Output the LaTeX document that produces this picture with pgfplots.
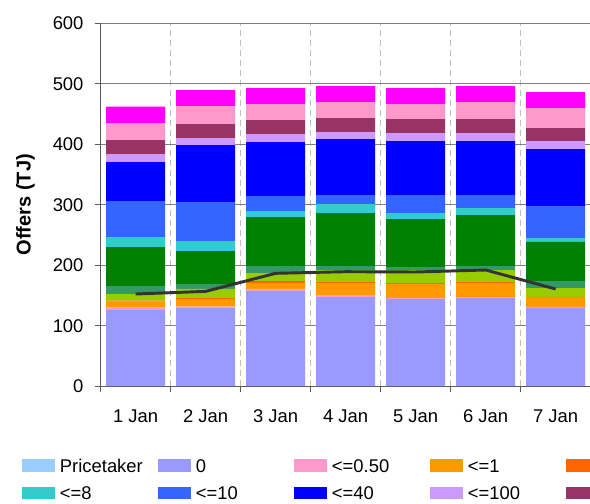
\documentclass[border=0pt]{standalone}
\usepackage{fontspec}
\setmainfont{Liberation Sans}
\usepackage{pgfplots}
\usepackage{pgfplotstable}
\pgfplotsset{compat=1.18}

\definecolor{c1}{HTML}{99CCFF}
\definecolor{c2}{HTML}{9999FF}
\definecolor{c3}{HTML}{FF99CC}
\definecolor{c4}{HTML}{FF9900}
\definecolor{c5}{HTML}{FF6600}
\definecolor{c6}{HTML}{99CC00}
\definecolor{c7}{HTML}{339966}
\definecolor{c8}{HTML}{008000}
\definecolor{c9}{HTML}{33CCCC}
\definecolor{c10}{HTML}{3366FF}
\definecolor{c11}{HTML}{0000FF}
\definecolor{c12}{HTML}{CC99FF}
\definecolor{c13}{HTML}{993366}
\definecolor{c14}{HTML}{FF99CC}
\definecolor{c15}{HTML}{FF00FF}
\definecolor{linec}{HTML}{333333}

\pgfplotstableread{
x s1 s2 s3 s4 s5 s6 s7 s8 s9 s10 s11 s12 s13 s14 s15
1 0 126.0 3.8 9.9 1.7 11.0 13.2 64.5 16.5 59.5 64.5 13.2 23.2 28.0 27.0
2 0 129.8 1.7 12.6 1.7 14.9 8.2 54.6 16.5 64.5 94.2 11.6 23.1 29.7 26.5
3 0 157.4 3.3 9.9 3.3 13.2 11.5 81.1 9.9 24.8 89.2 13.3 23.1 26.4 26.5
4 0 147.4 3.3 19.9 1.6 19.9 6.5 87.7 14.9 14.8 92.6 11.6 23.1 26.5 26.4
5 0 144.1 1.7 23.1 1.7 21.5 4.9 79.4 9.9 29.7 89.3 13.2 23.2 24.7 26.5
6 0 145.8 1.6 23.2 1.6 19.9 6.5 84.4 11.5 21.5 89.3 13.2 23.2 28.1 26.4
7 0 129.5 1.5 16.2 0.3 14.8 11.6 64.5 6.6 52.9 94.2 13.2 21.5 33.0 26.5
}\offers

\pgfplotstableread{
x demand
1 152.4
2 156.8
3 186.6
4 189.3
5 188.8
6 192.1
7 160.7
}\demand

\newcommand\cf{\fontsize{13.8pt}{16.5pt}\selectfont}

\begin{document}
\cf
\begin{tikzpicture}
\begin{axis}[name=ax,
  scale only axis, width=367.5pt, height=272.2pt,
  xmin=0.5, xmax=7.5, ymin=0, ymax=600, enlargelimits=false,
  ybar stacked, bar width=44.25pt,
  xtick={0.5,1.5,2.5,3.5,4.5,5.5,6.5,7.5},
  xticklabels={1 Jan,2 Jan,3 Jan,4 Jan,5 Jan,6 Jan,7 Jan,{}},
  ytick={0,100,...,600},
  axis x line*=bottom, axis y line*=left,
  axis line style={-, draw=black!65, line width=0.8pt},
  tick style={draw=black!65, line width=0.8pt},
  tick align=outside, major tick length=4.5pt,
  xmajorgrids, ymajorgrids,
  x grid style={draw=black!25, dash pattern=on 4.5pt off 3pt, line width=0.75pt},
  y grid style={draw=black!50, line width=0.8pt},
  /pgf/number format/assume math mode=true,
  tick label style={font=\cf, text=black},
  xticklabel style={anchor=base, xshift=26.25pt, yshift=-22.5pt},
  yticklabel style={anchor=east, inner sep=0pt, xshift=-8.2pt},
  ylabel={Offers (TJ)},
  every axis y label/.style={at={(axis description cs:-0.1429,0.5)}, rotate=90, anchor=base, font=\fontsize{15pt}{18pt}\selectfont\bfseries},
  legend columns=8,
  legend cell align=left,
  legend style={draw=none, fill=none, inner sep=0pt, outer sep=0pt,
    at={(-0.1606,-0.2005)}, anchor=north west, row sep=10.7pt, font=\cf,
    nodes={inner sep=0pt, text height=9.9pt, text depth=0pt, text width=73.5pt, align=left},
    /tikz/every odd column/.append style={column sep=3.75pt}},
  legend image code/.code={\fill[#1] (0pt,-4.76pt) rectangle (24.75pt,4.76pt);},
]
\addplot[fill=c1, draw=none] table[x=x, y=s1] {\offers};
\addplot[fill=c2, draw=none] table[x=x, y=s2] {\offers};
\addplot[fill=c3, draw=none] table[x=x, y=s3] {\offers};
\addplot[fill=c4, draw=none] table[x=x, y=s4] {\offers};
\addplot[fill=c5, draw=none] table[x=x, y=s5] {\offers};
\addplot[fill=c6, draw=none] table[x=x, y=s6] {\offers};
\addplot[fill=c7, draw=none] table[x=x, y=s7] {\offers};
\addplot[fill=c8, draw=none] table[x=x, y=s8] {\offers};
\addplot[fill=c9, draw=none] table[x=x, y=s9] {\offers};
\addplot[fill=c10, draw=none] table[x=x, y=s10] {\offers};
\addplot[fill=c11, draw=none] table[x=x, y=s11] {\offers};
\addplot[fill=c12, draw=none] table[x=x, y=s12] {\offers};
\addplot[fill=c13, draw=none] table[x=x, y=s13] {\offers};
\addplot[fill=c14, draw=none] table[x=x, y=s14] {\offers};
\addplot[fill=c15, draw=none] table[x=x, y=s15] {\offers};
\legend{Pricetaker,0,<=0.50,<=1,\phantom{x},\phantom{x},\phantom{x},\phantom{x},<=8,<=10,<=40,<=100,\phantom{x},\phantom{x},\phantom{x}}
\end{axis}
\begin{axis}[scale only axis, width=367.5pt, height=272.2pt,
  xmin=0.5, xmax=7.5, ymin=0, ymax=600, enlargelimits=false, hide axis]
\addplot[draw=linec, line width=2.2pt, mark=none] table[x=x, y=demand] {\demand};
\end{axis}
\pgfresetboundingbox
\path[use as bounding box] (-75.5pt,-88.35pt) rectangle (367pt,289.65pt);
\end{tikzpicture}
\end{document}
